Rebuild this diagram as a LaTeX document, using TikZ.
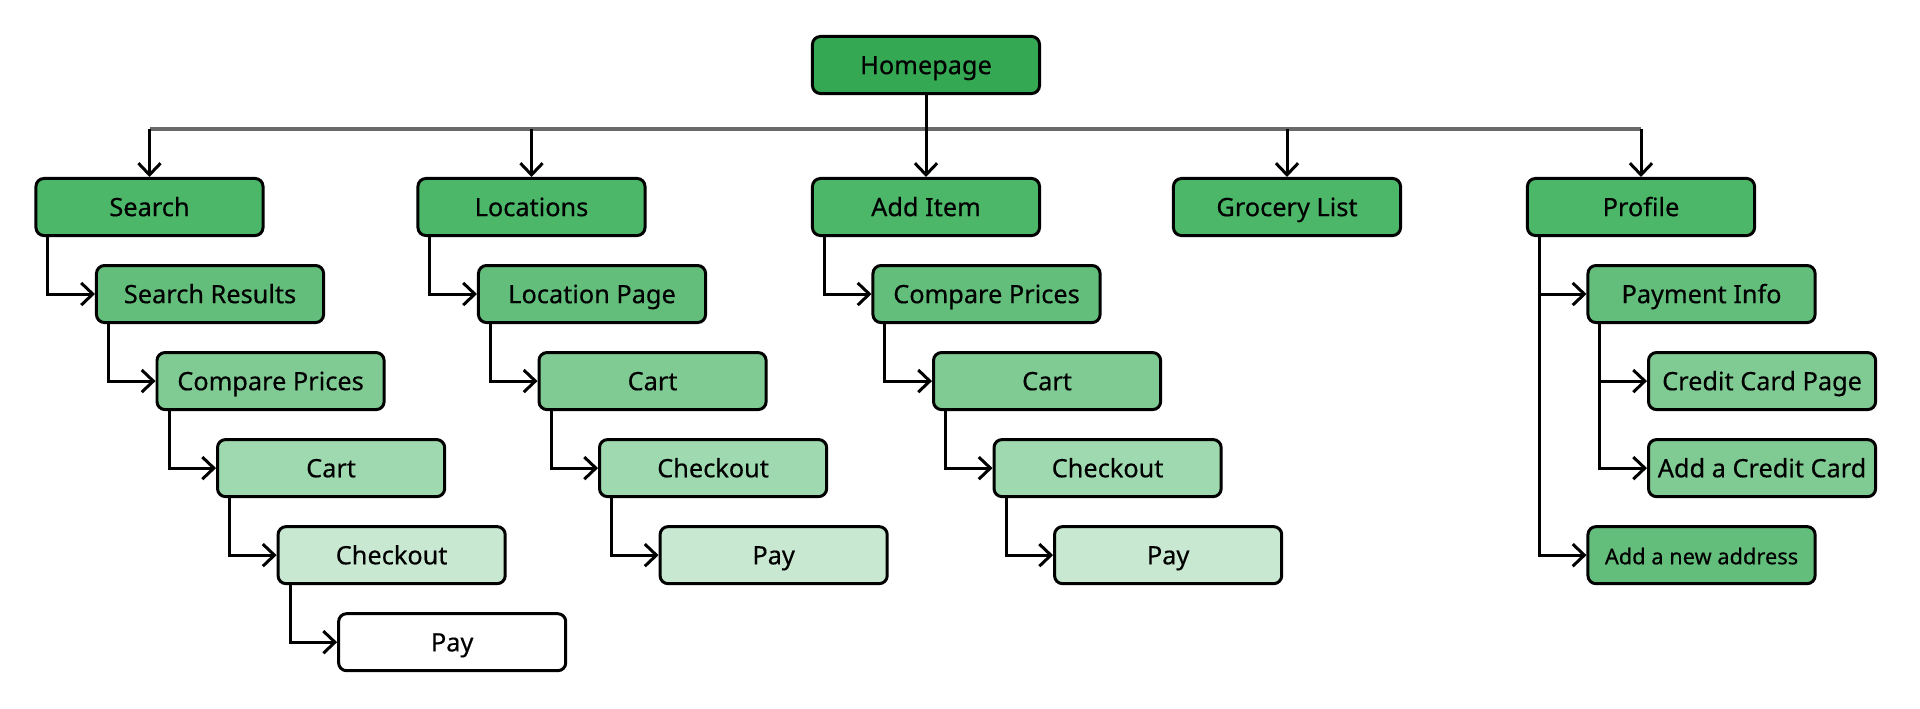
\documentclass[tikz,border=0pt]{standalone}
\usepackage{fontspec}
\setmainfont{Noto Sans}[FakeBold=0.4]
\usetikzlibrary{arrows.meta, positioning}
\definecolor{lv0}{HTML}{34A853}
\definecolor{lv1}{HTML}{4CB769}
\definecolor{lv2}{HTML}{63BE7B}
\definecolor{lv3}{HTML}{80CB94}
\definecolor{lv4}{HTML}{9FD9B0}
\definecolor{lv5}{HTML}{C8E8D1}
\definecolor{busgray}{HTML}{6A6A6A}
\tikzset{
  page/.style={draw, line width=0.85pt, rounded corners=0.08cm, minimum width=2.27cm,
    minimum height=0.57cm, inner sep=1pt, text height=5.2pt, text depth=0pt,
    font=\fontsize{7.2}{8.6}\selectfont},
  link/.style={->, line width=0.85pt},
}

\begin{document}
\begin{tikzpicture}[x=0.01cm, y=0.01cm, node distance=0.27cm, >={Straight Barb[length=3.3pt,width=6.3pt]}]
  \useasboundingbox (0,0) rectangle (1920,-709);
  \node[page, fill=lv0] (H) at (926,-65) {Homepage};
  % top row
  \node[page, fill=lv1] (S1) at (149.5,-207) {Search};
  \node[page, fill=lv1] (L1) at (531.5,-207) {Locations};
  \node[page, fill=lv1] (A1) at (926,-207) {Add Item};
  \node[page, fill=lv1] (G1) at (1287,-207) {Grocery List};
  \node[page, fill=lv1] (P1) at (1641,-207) {Profile};
  % search
  \node[page, fill=lv2, below=of S1, xshift=0.605cm] (S2) {Search Results};
  \node[page, fill=lv3, below=of S2, xshift=0.605cm] (S3) {Compare Prices};
  \node[page, fill=lv4, below=of S3, xshift=0.605cm] (S4) {Cart};
  \node[page, fill=lv5, below=of S4, xshift=0.605cm] (S5) {Checkout};
  \node[page, fill=white, below=of S5, xshift=0.605cm] (S6) {Pay};
  % locations
  \node[page, fill=lv2, below=of L1, xshift=0.605cm] (L2) {Location Page};
  \node[page, fill=lv3, below=of L2, xshift=0.605cm] (L3) {Cart};
  \node[page, fill=lv4, below=of L3, xshift=0.605cm] (L4) {Checkout};
  \node[page, fill=lv5, below=of L4, xshift=0.605cm] (L5) {Pay};
  % add item
  \node[page, fill=lv2, below=of A1, xshift=0.605cm] (A2) {Compare Prices};
  \node[page, fill=lv3, below=of A2, xshift=0.605cm] (A3) {Cart};
  \node[page, fill=lv4, below=of A3, xshift=0.605cm] (A4) {Checkout};
  \node[page, fill=lv5, below=of A4, xshift=0.605cm] (A5) {Pay};
  % profile
  \node[page, fill=lv2, below=of P1, xshift=0.605cm] (P2) {Payment Info};
  \node[page, fill=lv3, below=of P2, xshift=0.605cm] (P3) {Credit Card Page};
  \node[page, fill=lv3, below=of P3] (P4) {Add a Credit Card};
  \node[page, fill=lv2, below=of P4, xshift=-0.605cm, font=\fontsize{6.2}{7.4}\selectfont] (P5) {Add a new address};

  \coordinate (bus) at (0,-129);
  \draw[busgray, line width=1pt] (S1 |- bus) -- (P1 |- bus);
  \draw[link] (H) -- (A1);
  \draw[link] (S1 |- bus) -- (S1);
  \draw[link] (L1 |- bus) -- (L1);
  \draw[link] (G1 |- bus) -- (G1);
  \draw[link] (P1 |- bus) -- (P1);

  \draw[link] ([xshift=0.135cm]S1.south west) |- (S2);
  \draw[link] ([xshift=0.135cm]S2.south west) |- (S3);
  \draw[link] ([xshift=0.135cm]S3.south west) |- (S4);
  \draw[link] ([xshift=0.135cm]S4.south west) |- (S5);
  \draw[link] ([xshift=0.135cm]S5.south west) |- (S6);
  \draw[link] ([xshift=0.135cm]L1.south west) |- (L2);
  \draw[link] ([xshift=0.135cm]L2.south west) |- (L3);
  \draw[link] ([xshift=0.135cm]L3.south west) |- (L4);
  \draw[link] ([xshift=0.135cm]L4.south west) |- (L5);
  \draw[link] ([xshift=0.135cm]A1.south west) |- (A2);
  \draw[link] ([xshift=0.135cm]A2.south west) |- (A3);
  \draw[link] ([xshift=0.135cm]A3.south west) |- (A4);
  \draw[link] ([xshift=0.135cm]A4.south west) |- (A5);
  \draw[link] ([xshift=0.135cm]P1.south west) |- (P2);
  \draw[link] ([xshift=0.135cm]P1.south west) |- (P5);
  \draw[link] ([xshift=0.135cm]P2.south west) |- (P3);
  \draw[link] ([xshift=0.135cm]P2.south west) |- (P4);
\end{tikzpicture}
\end{document}
